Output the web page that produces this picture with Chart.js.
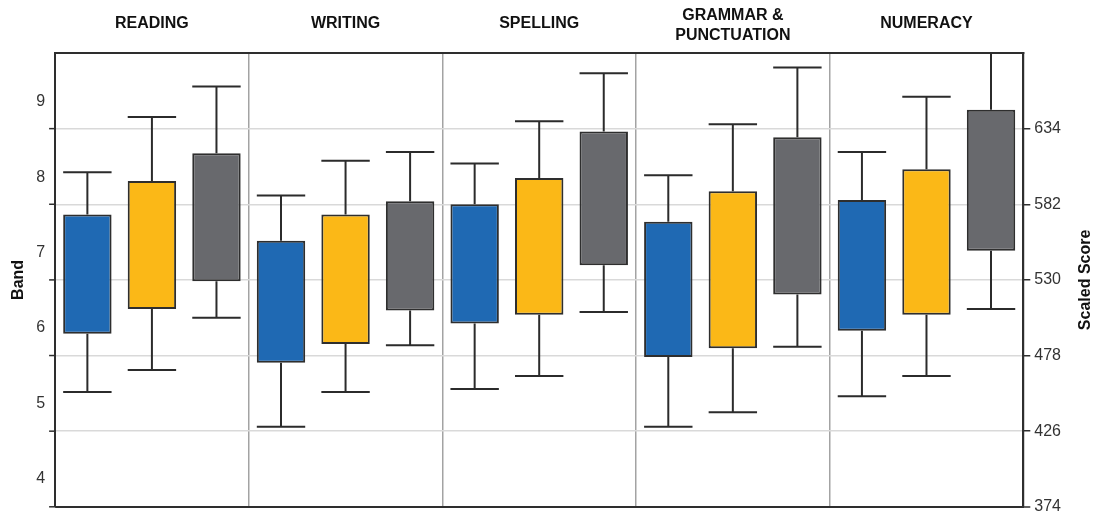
<!DOCTYPE html>
<html>
<head>
<meta charset="utf-8">
<title>Band and scaled score box plot</title>
<script src="https://cdn.jsdelivr.net/npm/chart.js@4.4.1/dist/chart.umd.min.js"></script>
<style>
  html, body { margin: 0; padding: 0; background: #fff; }
  #wrap { width: 1095px; height: 514px; }
</style>
</head>
<body>
<div id="wrap"><canvas id="boxCanvas" width="1095" height="514"></canvas></div>
<script>
// domains shown across the top
const domains = ['READING', 'WRITING', 'SPELLING', ['GRAMMAR &', 'PUNCTUATION'], 'NUMERACY'];

// tick labels
const bandTicks = [4, 5, 6, 7, 8, 9];
const scoreTicks = [374, 426, 478, 530, 582, 634];

// box values per series, one entry per domain (scaled score)
const blueMin = [453, 429, 455, 429, 450];
const blueQ1  = [493, 473, 500, 477, 495];
const blueQ3  = [575, 557, 582, 570, 585];
const blueMax = [604, 588, 610, 602, 618];

const yellowMin = [468, 453, 464, 439, 464];
const yellowQ1  = [510, 486, 506, 483, 506];
const yellowQ3  = [598, 575, 600, 591, 606];
const yellowMax = [642, 612, 639, 637, 656];

const greyMin = [504, 485, 508, 484, 510];
const greyQ1  = [529, 509, 540, 520, 550];
const greyQ3  = [617, 584, 632, 628, 647];
const greyMax = [663, 618, 672, 676, 695];

// pairing q1 and q3 for the floating bars
const boxes = (q1, q3) => q1.map((v, i) => [v, q3[i]]);

const makeSet = (label, colour, q1, q3, lo, hi) => ({
  label: label,
  data: boxes(q1, q3),
  lows: lo,
  highs: hi,
  backgroundColor: colour,
  borderColor: '#2e2e2e',
  borderWidth: 2,
  borderSkipped: false,
  yAxisID: 'score',
  categoryPercentage: 1.0,
  barPercentage: 0.75
});

// whiskers and caps, drawn through the score scale
const whiskers = {
  id: 'whiskers',
  afterDatasetsDraw(chart) {
    const ctx = chart.ctx;
    const y = chart.scales.score;
    const area = chart.chartArea;
    ctx.save();
    ctx.beginPath();
    ctx.rect(area.left, area.top, area.right - area.left, area.bottom - area.top);
    ctx.clip();
    ctx.strokeStyle = '#2b2b2b';
    ctx.lineWidth = 2;
    chart.data.datasets.forEach((ds, i) => {
      chart.getDatasetMeta(i).data.forEach((bar, j) => {
        const half = bar.width / 2;
        const top = y.getPixelForValue(ds.highs[j]);
        const q3 = y.getPixelForValue(ds.data[j][1]);
        const q1 = y.getPixelForValue(ds.data[j][0]);
        const bottom = y.getPixelForValue(ds.lows[j]);
        ctx.beginPath();
        ctx.moveTo(bar.x, q3); ctx.lineTo(bar.x, top);
        ctx.moveTo(bar.x - half, top); ctx.lineTo(bar.x + half, top);
        ctx.moveTo(bar.x, q1); ctx.lineTo(bar.x, bottom);
        ctx.moveTo(bar.x - half, bottom); ctx.lineTo(bar.x + half, bottom);
        ctx.stroke();
      });
    });
    ctx.restore();
  }
};

// domain headings, left gridline marks and the right-hand title
const extras = {
  id: 'extras',
  afterDraw(chart) {
    const ctx = chart.ctx;
    const x = chart.scales.x;
    const y = chart.scales.score;
    const area = chart.chartArea;
    ctx.save();

    // headings over each domain
    ctx.fillStyle = '#111';
    ctx.font = 'bold 16px "Liberation Sans", Arial, sans-serif';
    ctx.textAlign = 'center';
    ctx.textBaseline = 'middle';
    domains.forEach((name, i) => {
      const px = x.getPixelForValue(i);
      if (Array.isArray(name)) {
        name.forEach((line, k) => ctx.fillText(line, px, 16 + k * 20));
      } else {
        ctx.fillText(name, px, 23.5);
      }
    });

    ctx.strokeStyle = '#2e2e2e';
    ctx.lineWidth = 1.5;
    scoreTicks.forEach(v => {
      const py = y.getPixelForValue(v);
      ctx.beginPath();
      ctx.moveTo(area.left - 6, py);
      ctx.lineTo(area.left, py);
      ctx.stroke();
    });

    ctx.translate(1086, (area.top + area.bottom) / 2);
    ctx.rotate(-Math.PI / 2);
    ctx.fillText('Scaled Score', 0, 0);
    ctx.restore();
  }
};

const whiteBg = {
  id: 'whiteBg',
  beforeDraw(chart) {
    const ctx = chart.ctx;
    ctx.save();
    ctx.fillStyle = '#fff';
    ctx.fillRect(0, 0, chart.width, chart.height);
    ctx.restore();
  }
};

Chart.defaults.font.family = '"Liberation Sans", Arial, sans-serif';
Chart.defaults.color = '#333';

const config = {
  type: 'bar',
  data: {
    labels: domains,
    datasets: [
      makeSet('Series 1', '#1f69b3', blueQ1, blueQ3, blueMin, blueMax),
      makeSet('Series 2', '#fbb817', yellowQ1, yellowQ3, yellowMin, yellowMax),
      makeSet('Series 3', '#68696d', greyQ1, greyQ3, greyMin, greyMax)
    ]
  },
  options: {
    responsive: false,
    animation: false,
    layout: { padding: { left: 5, right: 30, top: 53, bottom: 0 } },
    plugins: {
      legend: { display: false },
      tooltip: { enabled: false }
    },
    scales: {
      x: {
        type: 'category',
        position: 'top',
        offset: true,
        grid: { offset: true, color: '#a3a3a3', lineWidth: 1.5, drawTicks: false },
        border: { display: true, color: '#2e2e2e', width: 2 },
        ticks: { display: false }
      },
      band: {
        type: 'linear',
        position: 'left',
        min: 3.625,
        max: 9.65,
        afterBuildTicks: (scale) => { scale.ticks = bandTicks.map(v => ({ value: v })); },
        grid: { display: true, drawOnChartArea: false, tickLength: 6, tickColor: 'transparent' },
        border: { display: true, color: '#2e2e2e', width: 2 },
        ticks: { font: { size: 16, lineHeight: 0.4 }, padding: 4, color: '#333' },
        title: { display: true, text: 'Band', color: '#111', font: { size: 16, weight: 'bold' } }
      },
      score: {
        type: 'linear',
        position: 'right',
        min: 374,
        max: 686,
        afterBuildTicks: (scale) => { scale.ticks = scoreTicks.map(v => ({ value: v })); },
        grid: {
          color: (c) => c.tick && c.tick.value === 374 ? '#2e2e2e' : '#d9d9d9',
          lineWidth: (c) => c.tick && c.tick.value === 374 ? 2 : 1.5,
          tickLength: 7,
          tickColor: '#2e2e2e',
          tickWidth: 1.5
        },
        border: { display: true, color: '#2e2e2e', width: 2 },
        ticks: { font: { size: 16, lineHeight: 0.4 }, padding: 4, color: '#333' }
      }
    }
  },
  plugins: [whiteBg, whiskers, extras]
};

const boxChart = new Chart(document.getElementById('boxCanvas'), config);
</script>
</body>
</html>
